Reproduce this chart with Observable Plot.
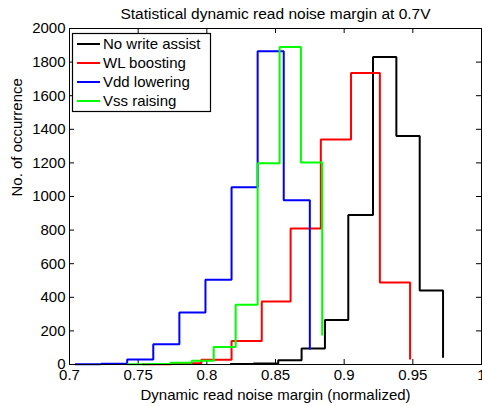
<!DOCTYPE html>
<html>
<head>
<meta charset="utf-8">
<script src="https://cdn.jsdelivr.net/npm/d3@7"></script>
<script src="https://cdn.jsdelivr.net/npm/@observablehq/plot@0.6"></script>
<style>
  html, body { margin: 0; padding: 0; background: white; }
  #chart svg { display: block; }
</style>
</head>
<body>
<div id="chart"></div>
<script>
// ---- Data ----
const seriesNames = ["No write assist", "WL boosting", "Vdd lowering", "Vss raising"];
const seriesColors = ["#000000", "#ff0000", "#0000ff", "#00ff00"];

const noAssistX = [0.817, 0.834, 0.852, 0.869, 0.886, 0.903, 0.921, 0.938, 0.955, 0.972];
const noAssistY = [3, 6, 25, 95, 265, 890, 1830, 1360, 440, 40];

const wlBoostX = [0.753, 0.774, 0.796, 0.818, 0.840, 0.861, 0.883, 0.905, 0.926, 0.948];
const wlBoostY = [2, 8, 28, 140, 375, 810, 1340, 1735, 488, 30];

const vddLowerX = [0.704, 0.723, 0.742, 0.761, 0.780, 0.799, 0.818, 0.837, 0.856, 0.875];
const vddLowerY = [1, 5, 30, 120, 310, 505, 1055, 1865, 978, 90];

const vssRaiseX = [0.742, 0.758, 0.7735, 0.789, 0.805, 0.821, 0.837, 0.853, 0.8685, 0.884];
const vssRaiseY = [1, 3, 10, 22, 104, 356, 1198, 1890, 1203, 172];

const xTicks = [0.7, 0.75, 0.8, 0.85, 0.9, 0.95, 1];
const xTickLabels = ["0.7", "0.75", "0.8", "0.85", "0.9", "0.95", "1"];
const yTicks = [0, 200, 400, 600, 800, 1000, 1200, 1400, 1600, 1800, 2000];
const yTickLabels = ["0", "200", "400", "600", "800", "1000", "1200", "1400", "1600", "1800", "2000"];

const titleText = "Statistical dynamic read noise margin at 0.7V";
const xLabelText = "Dynamic read noise margin (normalized)";
const yLabelText = "No. of occurrence";

// ---- Build tables ----
const seriesXs = [noAssistX, wlBoostX, vddLowerX, vssRaiseX];
const seriesYs = [noAssistY, wlBoostY, vddLowerY, vssRaiseY];
const tables = seriesNames.map((name, s) =>
  seriesXs[s].map((x, i) => ({series: name, x, y: seriesYs[s][i]}))
);

// ---- Layout ----
const W = 482, H = 406;
const mL = 69, mR = 1, mT = 28, mB = 42;
const fw = W - mL - mR, fh = H - mT - mB;
const tick = 5;
const font = "'Liberation Sans', Arial, Helvetica, sans-serif";

const svg = Plot.plot({
  width: W,
  height: H,
  marginLeft: mL, marginRight: mR, marginTop: mT, marginBottom: mB,
  style: {fontFamily: font, fontSize: "15px", background: "white", color: "black", overflow: "visible"},
  x: {
    domain: [0.7, 1], ticks: xTicks, tickSize: 0, tickPadding: 5,
    tickFormat: d => xTickLabels[xTicks.indexOf(d)], label: null
  },
  y: {
    domain: [0, 2000], ticks: yTicks, tickSize: 0, tickPadding: 4,
    tickFormat: d => yTickLabels[yTicks.indexOf(d)], label: null
  },
  marks: [
    // inward ticks on all four sides
    Plot.ruleX(xTicks, {x: d => d, insetTop: fh - tick, stroke: "black"}),
    Plot.ruleX(xTicks, {x: d => d, insetBottom: fh - tick, stroke: "black"}),
    Plot.ruleY(yTicks, {y: d => d, insetRight: fw - tick, stroke: "black"}),
    Plot.ruleY(yTicks, {y: d => d, insetLeft: fw - tick, stroke: "black"}),
    // histogram stairs
    ...tables.map((t, s) => Plot.line(t, {
      x: "x", y: "y", curve: "step-after",
      stroke: seriesColors[s], strokeWidth: 2,
      strokeLinejoin: "miter", strokeLinecap: "butt"
    })),
    Plot.frame({stroke: "black", strokeWidth: 1}),
    // titles
    Plot.text([titleText], {text: d => d, frameAnchor: "top", lineAnchor: "middle", dy: -14, fontSize: 15.5}),
    Plot.text([xLabelText], {text: d => d, frameAnchor: "bottom", lineAnchor: "middle", dy: 31, fontSize: 15}),
    Plot.text([yLabelText], {text: d => d, frameAnchor: "left", lineAnchor: "middle", dx: -52, rotate: -90, fontSize: 15})
  ]
});

// ---- Legend (MATLAB style box, top-left inside the axes) ----
const lg = d3.select(svg).append("g")
  .attr("font-family", font).attr("font-size", 15).attr("text-anchor", "start");
const lx = mL + 3, ly = mT + 5, lw = 138, rowH = 19, lh = 78;
lg.append("rect").attr("x", lx + 0.5).attr("y", ly + 0.5).attr("width", lw).attr("height", lh)
  .attr("fill", "white").attr("stroke", "black").attr("stroke-width", 1.2);
seriesNames.forEach((name, i) => {
  const cy = ly + 11 + i * rowH;
  lg.append("line").attr("x1", lx + 5).attr("x2", lx + 28).attr("y1", cy).attr("y2", cy)
    .attr("stroke", seriesColors[i]).attr("stroke-width", 2);
  lg.append("text").attr("x", lx + 31).attr("y", cy).attr("dy", "0.35em")
    .attr("fill", "black").attr("text-anchor", "start").text(name);
});

document.getElementById("chart").appendChild(svg);
</script>
</body>
</html>
